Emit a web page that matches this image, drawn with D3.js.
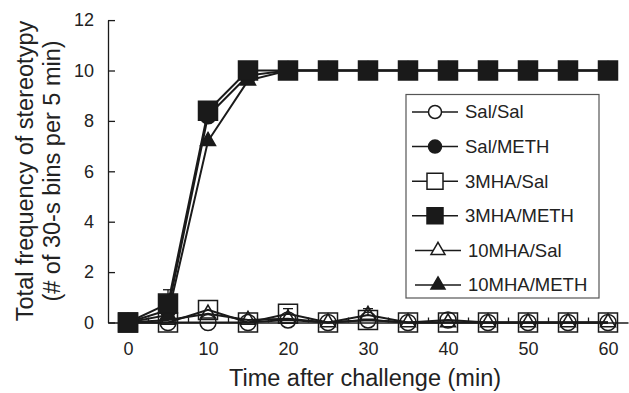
<!DOCTYPE html>
<html>
<head>
<meta charset="utf-8">
<script src="https://cdn.jsdelivr.net/npm/d3@7"></script>
<style>
  body { margin: 0; background: #fff; }
  svg { display: block; font-family: "Liberation Sans", Arial, Helvetica, sans-serif; }
</style>
</head>
<body>
<svg id="chart" width="629" height="393"></svg>
<script>
// time points (min) and group means
const times = [0, 5, 10, 15, 20, 25, 30, 35, 40, 45, 50, 55, 60];
const salSal    = [0, 0, 0, 0, 0.1, 0, 0.1, 0, 0.1, 0, 0, 0, 0];
const salMeth   = [0, 0.5, 8.2, 9.8, 10, 10, 10, 10, 10, 10, 10, 10, 10];
const mha3Sal   = [0, 0, 0.5, 0, 0.35, 0, 0.1, 0, 0, 0, 0, 0, 0];
const mha3Meth  = [0, 0.75, 8.4, 10, 10, 10, 10, 10, 10, 10, 10, 10, 10];
const mha10Sal  = [0, 0.1, 0.35, 0.1, 0.15, 0, 0.3, 0, 0, 0, 0, 0, 0];
const mha10Meth = [0, 0.3, 7.2, 9.6, 10, 10, 10, 10, 10, 10, 10, 10, 10];
// upper error bars (SEM)
const salSalErr    = [0, 0, 0, 0, 0, 0, 0, 0, 0, 0, 0, 0, 0];
const salMethErr   = [0, 0, 0.2, 0, 0, 0, 0, 0, 0, 0, 0, 0, 0];
const mha3SalErr   = [0, 0, 0, 0, 0.2, 0, 0, 0, 0, 0, 0, 0, 0];
const mha3MethErr  = [0, 0.55, 0.3, 0, 0, 0, 0, 0, 0, 0, 0, 0, 0];
const mha10SalErr  = [0, 0, 0, 0, 0, 0, 0.25, 0, 0, 0, 0, 0, 0];
const mha10MethErr = [0, 0, 0, 0, 0, 0, 0, 0, 0, 0, 0, 0, 0];

const xLabels = [0, 10, 20, 30, 40, 50, 60];
const yTicks = [0, 2, 4, 6, 8, 10, 12];
const xTickMarks = [2.5, 7.5, 12.5, 17.5, 22.5, 27.5, 32.5, 37.5, 42.5, 47.5, 52.5, 57.5];

// draw order: open markers first, filled on top
const series = [
  { name: "Sal/Sal",     vals: salSal,    err: salSalErr,    shape: "circle",   filled: false },
  { name: "3MHA/Sal",    vals: mha3Sal,   err: mha3SalErr,   shape: "square",   filled: false },
  { name: "10MHA/Sal",   vals: mha10Sal,  err: mha10SalErr,  shape: "triangle", filled: false },
  { name: "Sal/METH",    vals: salMeth,   err: salMethErr,   shape: "circle",   filled: true },
  { name: "10MHA/METH",  vals: mha10Meth, err: mha10MethErr, shape: "triangle", filled: true },
  { name: "3MHA/METH",   vals: mha3Meth,  err: mha3MethErr,  shape: "square",   filled: true }
];
const legendOrder = ["Sal/Sal", "Sal/METH", "3MHA/Sal", "3MHA/METH", "10MHA/Sal", "10MHA/METH"];

const svg = d3.select("#chart");
const x = d3.scaleLinear().domain([-2.5, 62.5]).range([108, 628]);
const y = d3.scaleLinear().domain([0, 12]).range([322.5, 20.1]);

const ink = "#1a1a1a";

function symbolPath(shape, big) {
  const t = shape === "circle" ? d3.symbolCircle : shape === "square" ? d3.symbolSquare : d3.symbolTriangle;
  let size;
  if (shape === "circle") size = Math.PI * Math.pow(big ? 8 : 6.5, 2);
  else if (shape === "square") size = Math.pow(big ? 19 : 16, 2);
  else size = Math.pow(big ? 15 : 14, 2) * Math.sqrt(3) / 4;
  return d3.symbol().type(t).size(size)();
}

// y axis (ticks pointing inward)
const yAxis = svg.append("g")
  .attr("transform", `translate(${x(-2.5)},0)`)
  .call(d3.axisLeft(y).tickValues(yTicks).tickSize(-7).tickSizeOuter(0).tickPadding(14));
yAxis.selectAll("text").attr("font-size", "18px").attr("fill", "#222").attr("font-family", "Liberation Sans, Arial, sans-serif");

// x axis: tick marks between categories, labels at every 10 min
const xAxis = svg.append("g")
  .attr("transform", `translate(0,${y(0)})`)
  .call(d3.axisBottom(x).tickValues(xTickMarks).tickSize(-5).tickSizeOuter(0).tickFormat(""));
svg.append("g")
  .attr("transform", `translate(0,${y(0)})`)
  .call(d3.axisBottom(x).tickValues(xLabels).tickSize(0).tickPadding(20))
  .call(g => g.select(".domain").remove())
  .selectAll("text").attr("font-size", "18px").attr("fill", "#222").attr("font-family", "Liberation Sans, Arial, sans-serif");
svg.selectAll(".domain, .tick line").attr("stroke", ink).attr("stroke-width", 1.3);

// lines
const line = d3.line().x((d, i) => x(times[i])).y(d => y(d));
series.forEach(s => {
  svg.append("path")
    .attr("d", line(s.vals))
    .attr("fill", "none")
    .attr("stroke", ink)
    .attr("stroke-width", 2);
});

// error bars (upper only)
series.forEach(s => {
  s.err.forEach((e, i) => {
    if (e <= 0) return;
    const cx = x(times[i]), y0 = y(s.vals[i]), y1 = y(s.vals[i] + e);
    svg.append("line").attr("x1", cx).attr("x2", cx).attr("y1", y0).attr("y2", y1)
      .attr("stroke", ink).attr("stroke-width", 1.3);
    svg.append("line").attr("x1", cx - 5).attr("x2", cx + 5).attr("y1", y1).attr("y2", y1)
      .attr("stroke", ink).attr("stroke-width", 1.3);
  });
});

// markers
series.forEach(s => {
  svg.append("g").selectAll("path")
    .data(s.vals)
    .enter()
    .append("path")
    .attr("d", symbolPath(s.shape, true))
    .attr("transform", (d, i) => `translate(${x(times[i])},${y(d)})`)
    .attr("fill", s.filled ? ink : "none")
    .attr("stroke", ink)
    .attr("stroke-width", 1.5);
});

// legend
const legend = svg.append("g");
legend.append("rect")
  .attr("x", 406).attr("y", 94.5).attr("width", 193).attr("height", 203.5)
  .attr("fill", "#fff").attr("stroke", "#555").attr("stroke-width", 1.2);
legendOrder.forEach((name, i) => {
  const s = series.find(d => d.name === name);
  const ly = 112 + i * 34.6;
  const shift = s.shape === "triangle" ? 3 : 0;
  const row = legend.append("g").attr("transform", `translate(${shift},${ly})`);
  row.append("line").attr("x1", 412).attr("x2", 458).attr("y1", 0).attr("y2", 0)
    .attr("stroke", ink).attr("stroke-width", 1.5);
  row.append("path")
    .attr("d", symbolPath(s.shape, false))
    .attr("transform", "translate(435,0)")
    .attr("fill", s.filled ? ink : "#fff")
    .attr("stroke", ink).attr("stroke-width", 1.5);
  row.append("text")
    .attr("x", 465).attr("y", 0).attr("dy", "0.35em")
    .attr("font-size", "18.5px").attr("fill", "#222")
    .text(name);
});

// axis titles
svg.append("text")
  .attr("x", 365).attr("y", 386)
  .attr("text-anchor", "middle")
  .attr("font-size", "23.5px").attr("fill", "#222")
  .text("Time after challenge (min)");
svg.append("text")
  .attr("transform", "translate(25,171) rotate(-90)")
  .attr("text-anchor", "middle").attr("dy", "0.35em")
  .attr("font-size", "23.5px").attr("fill", "#222")
  .text("Total frequency of stereotypy");
svg.append("text")
  .attr("transform", "translate(52,171) rotate(-90)")
  .attr("text-anchor", "middle").attr("dy", "0.35em")
  .attr("font-size", "23.5px").attr("fill", "#222")
  .text("(# of 30-s bins per 5 min)");
</script>
</body>
</html>
